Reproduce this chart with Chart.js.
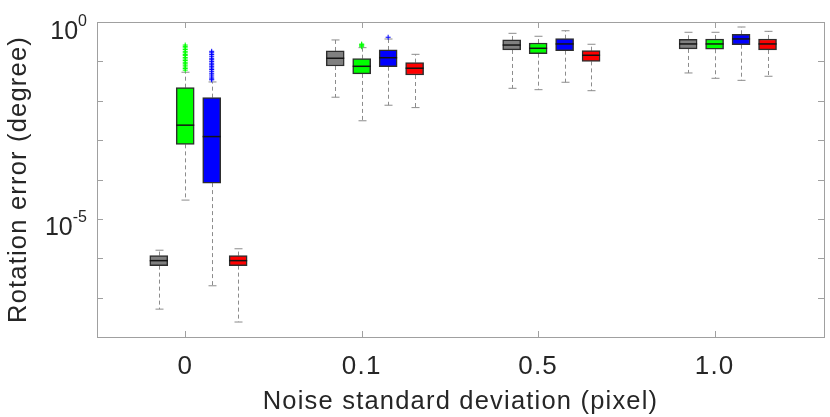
<!DOCTYPE html>
<html>
<head>
<meta charset="utf-8">
<script src="https://cdn.jsdelivr.net/npm/chart.js@4.4.1/dist/chart.umd.min.js"></script>
<style>
html, body { margin: 0; padding: 0; background: #fff; }
#wrap { width: 830px; height: 417px; }
</style>
</head>
<body>
<div id="wrap"><canvas id="rotChart"></canvas></div>
<script>
// noise levels along x
const categories = ['0', '0.1', '0.5', '1.0'];

// decade ticks on the log axis, and which ones get a 10^n label
const yTicks = [1e-8, 1e-7, 1e-6, 1e-5, 1e-4, 1e-3, 1e-2, 1e-1, 1];
const yLabelValues = [1, 1e-5];
const yLabelExps = ['0', '-5'];

// box summaries per noise level: [low whisker, q1, median, q3, high whisker]
const grayStats = [
    [5.1e-8, 6.5e-7, 8.7e-7, 1.17e-6, 1.6e-6],
    [0.0123, 0.0764, 0.12, 0.184, 0.35],
    [0.0207, 0.195, 0.26, 0.35, 0.516],
    [0.0508, 0.207, 0.277, 0.364, 0.548]
];
const greenStats = [
    [3.0e-5, 7.8e-4, 2.4e-3, 0.0215, 0.053],
    [0.0031, 0.048, 0.075, 0.117, 0.223],
    [0.0191, 0.157, 0.215, 0.293, 0.434],
    [0.0372, 0.203, 0.277, 0.371, 0.548]
];
const blueStats = [
    [2.0e-7, 8.1e-5, 1.23e-3, 0.012, 0.030],
    [0.0077, 0.073, 0.124, 0.195, 0.37],
    [0.0295, 0.187, 0.277, 0.377, 0.60],
    [0.033, 0.265, 0.371, 0.488, 0.746]
];
const redStats = [
    [2.4e-8, 6.5e-7, 8.7e-7, 1.17e-6, 1.74e-6],
    [0.0067, 0.045, 0.067, 0.093, 0.151],
    [0.018, 0.1, 0.143, 0.187, 0.272],
    [0.0419, 0.195, 0.277, 0.371, 0.58]
];

// outliers per noise level
const grayOutliers = [[], [], [], []];
const greenOutliers = [
    [0.26, 0.24, 0.22, 0.2, 0.18, 0.165, 0.15, 0.14, 0.125, 0.115, 0.105, 0.095, 0.087, 0.08, 0.072, 0.066, 0.06],
    [0.235, 0.25, 0.265, 0.275],
    [], []
];
const blueOutliers = [
    [0.18, 0.165, 0.15, 0.135, 0.12, 0.11, 0.1, 0.09, 0.082, 0.075, 0.068, 0.062, 0.056, 0.05, 0.045, 0.04, 0.036, 0.034],
    [0.41],
    [], []
];
const redOutliers = [[], [], [], []];

// styling / layout
const allStats = [grayStats, greenStats, blueStats, redStats];
const allOutliers = [grayOutliers, greenOutliers, blueOutliers, redOutliers];
const seriesColors = ['#808080', '#00ff00', '#0000ff', '#ff0000'];
const seriesOffset = [-0.15, 0, 0.15, 0.3]; // box position inside its group
const boxWidth = 18;
const capWidth = 8;
const axisGray = '#a0a0a0';
const textColor = '#262626';
const fontName = '"Liberation Sans", Arial, Helvetica, sans-serif';
const tracking = '1.2px'; // the reference type is a bit wider spaced than Arial

const datasets = [];
allStats.forEach((stats, s) => {
    datasets.push({
        type: 'bar',
        data: stats.map((st, i) => ({ x: i + 1 + seriesOffset[s], y: [st[1], st[3]] })),
        backgroundColor: seriesColors[s],
        borderColor: '#2e2e2e',
        borderWidth: 1.5,
        borderSkipped: false,
        barThickness: boxWidth,
        grouped: false,
        order: 2
    });
});
allOutliers.forEach((outs, s) => {
    const pts = [];
    outs.forEach((vals, i) => vals.forEach(v => pts.push({ x: i + 1 + seriesOffset[s], y: v })));
    datasets.push({
        type: 'scatter',
        data: pts,
        pointStyle: 'cross',
        pointRadius: 2.5,
        borderColor: seriesColors[s],
        borderWidth: 1,
        order: 1
    });
});

function seg(ctx, x1, y1, x2, y2) {
    ctx.beginPath();
    ctx.moveTo(x1, y1);
    ctx.lineTo(x2, y2);
    ctx.stroke();
}

// whiskers, medians, frame, inward ticks and the 10^n labels
const boxParts = {
    id: 'boxParts',
    // canvas resizes wipe the context state, so set the tracking again before layout and drawing
    beforeUpdate(chart) {
        chart.ctx.letterSpacing = tracking;
    },
    beforeDraw(chart) {
        chart.ctx.letterSpacing = tracking;
    },
    beforeDatasetsDraw(chart) {
        const { ctx, scales: { x, y } } = chart;
        ctx.save();
        ctx.lineWidth = 1;
        allStats.forEach((stats, s) => {
            stats.forEach((st, i) => {
                const cx = Math.round(x.getPixelForValue(i + 1 + seriesOffset[s])) + 0.5;
                ctx.strokeStyle = '#8c8c8c';
                ctx.setLineDash([4, 3]);
                seg(ctx, cx, y.getPixelForValue(st[3]), cx, y.getPixelForValue(st[4]));
                seg(ctx, cx, y.getPixelForValue(st[1]), cx, y.getPixelForValue(st[0]));
                ctx.setLineDash([]);
                const lo = y.getPixelForValue(st[0]), hi = y.getPixelForValue(st[4]);
                seg(ctx, cx - capWidth / 2, lo, cx + capWidth / 2, lo);
                seg(ctx, cx - capWidth / 2, hi, cx + capWidth / 2, hi);
            });
        });
        ctx.restore();
    },
    afterDatasetsDraw(chart) {
        const { ctx, chartArea: a, scales: { x, y } } = chart;
        ctx.save();
        // medians
        ctx.strokeStyle = '#141414';
        ctx.lineWidth = 1.5;
        allStats.forEach((stats, s) => {
            stats.forEach((st, i) => {
                const cx = x.getPixelForValue(i + 1 + seriesOffset[s]);
                const my = y.getPixelForValue(st[2]);
                seg(ctx, cx - boxWidth / 2, my, cx + boxWidth / 2, my);
            });
        });
        // frame
        ctx.strokeStyle = axisGray;
        ctx.lineWidth = 1;
        ctx.strokeRect(Math.round(a.left) + 0.5, Math.round(a.top) + 0.5,
            Math.round(a.right - a.left), Math.round(a.bottom - a.top));
        // inward ticks
        yTicks.forEach(v => {
            const py = Math.round(y.getPixelForValue(v)) + 0.5;
            seg(ctx, a.left, py, a.left + 6, py);
            seg(ctx, a.right, py, a.right - 6, py);
        });
        categories.forEach((c, i) => {
            const px = Math.round(x.getPixelForValue(i + 1)) + 0.5;
            seg(ctx, px, a.bottom, px, a.bottom - 6);
            seg(ctx, px, a.top, px, a.top + 6);
        });
        // 10^n labels
        ctx.fillStyle = textColor;
        ctx.textBaseline = 'alphabetic';
        ctx.letterSpacing = '0px';
        yLabelValues.forEach((v, k) => {
            const py = y.getPixelForValue(v);
            ctx.font = '16px ' + fontName;
            const ew = ctx.measureText(yLabelExps[k]).width;
            const right = a.left - 10;
            ctx.textAlign = 'left';
            ctx.fillText(yLabelExps[k], right - ew, py + 3.5);
            ctx.font = '25px ' + fontName;
            ctx.textAlign = 'right';
            ctx.fillText('10', right - ew, py + 16.5);
        });
        ctx.restore();
    }
};

new Chart(document.getElementById('rotChart'), {
    type: 'bar',
    data: { datasets },
    options: {
        responsive: true,
        maintainAspectRatio: false,
        animation: false,
        layout: { padding: { left: 0, top: 22, right: 6, bottom: 0 } },
        plugins: {
            legend: { display: false },
            tooltip: { enabled: false }
        },
        scales: {
            x: {
                type: 'linear',
                offset: false,
                min: 0.5,
                max: 4.62,
                grid: { display: false },
                border: { display: false },
                afterBuildTicks: scale => { scale.ticks = categories.map((c, i) => ({ value: i + 1 })); },
                afterFit: scale => { scale.height = 80; },
                ticks: {
                    autoSkip: false,
                    maxRotation: 0,
                    padding: 6,
                    color: textColor,
                    font: { family: fontName, size: 26 },
                    callback: (v) => categories[v - 1]
                },
                title: {
                    display: true,
                    text: 'Noise standard deviation (pixel)',
                    color: textColor,
                    font: { family: fontName, size: 25.5 },
                    padding: { top: 0, bottom: 0 }
                }
            },
            y: {
                type: 'logarithmic',
                min: 1e-8,
                max: 1,
                grid: { display: false },
                border: { display: false },
                ticks: { display: false },
                afterFit: scale => { scale.width = 97; },
                title: {
                    display: true,
                    text: 'Rotation error (degree)',
                    color: textColor,
                    font: { family: fontName, size: 25.5 },
                    padding: { top: 4, bottom: 0 }
                }
            }
        }
    },
    plugins: [boxParts]
});
</script>
</body>
</html>
